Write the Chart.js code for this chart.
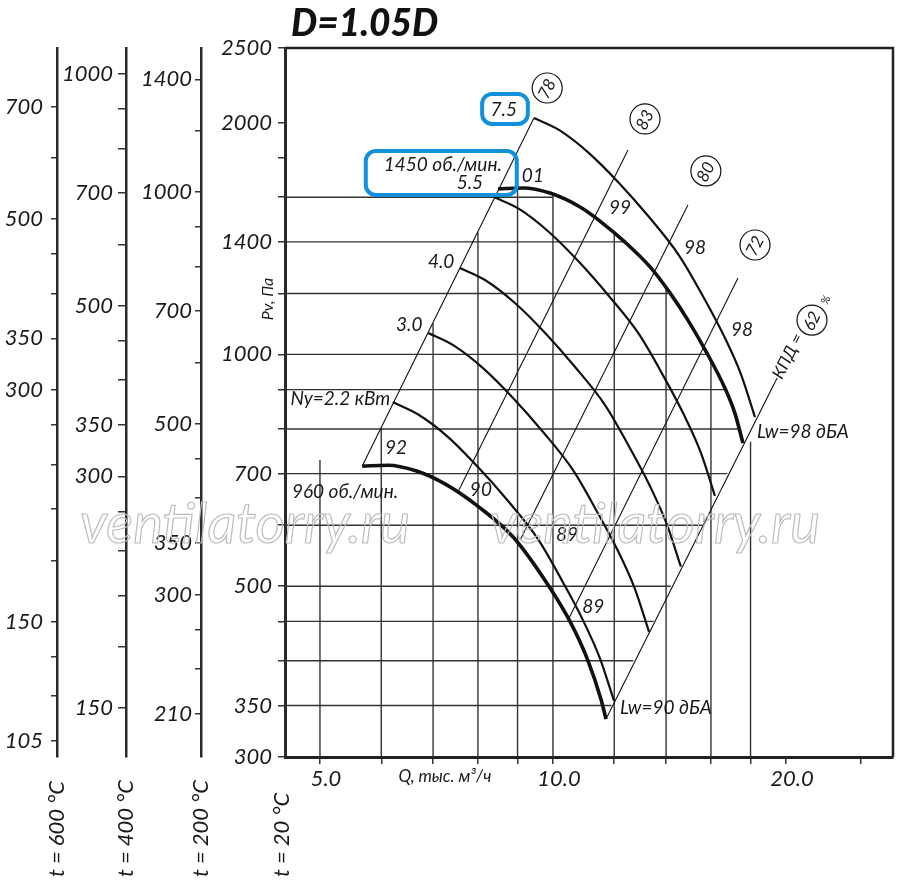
<!DOCTYPE html>
<html><head><meta charset="utf-8">
<script src="https://cdn.jsdelivr.net/npm/chart.js@4.4.1/dist/chart.umd.min.js"></script>
<style>html,body{margin:0;padding:0;background:#fff;}#wrap{width:900px;height:896px;position:relative;}</style>
</head><body><div id="wrap"><canvas id="c"></canvas></div>
<script>
// ---------------- data ----------------
const xMin = 4.506, xMax = 27.5, yMin = 300, yMax = 2500;
const xTicks = [5,6,7,8,9,10,12,14,16,18,20,25];
const xTickLabels = {5:'5.0',10:'10.0',20:'20.0'};
const yTicks20 = [300,350,400,450,500,600,700,800,900,1000,1200,1400,1600,1800,2000,2500];
const yLabels20 = [300,350,500,700,1000,1400,2000,2500];
const yTicks200 = [210,240,270,300,350,400,450,500,600,700,800,900,1000,1200,1400];
const yLabels200 = [210,300,350,500,700,1000,1400];
const yTicks400 = [150,180,210,240,270,300,350,400,450,500,600,700,800,900,1000];
const yLabels400 = [150,300,350,500,700,1000];
const yTicks600 = [105,120,135,150,180,210,240,270,300,350,400,450,500,600,700];
const yLabels600 = [105,150,300,350,500,700];
const ratio200 = 0.615, ratio400 = 0.432, ratio600 = 0.3335;
const tempTitles = ['t = 600 °C','t = 400 °C','t = 200 °C','t = 20 °C'];

// 960 rpm (thick)
const qA = [5.67, 6.12, 6.65, 7.27, 8.05, 8.90, 9.88, 10.52, 11.10, 11.54, 11.71];
const pA = [716, 718, 706, 678, 632, 578, 500, 450, 400, 356, 336];
// 1450 rpm (thick)
const qF = [8.49, 9.15, 9.91, 10.84, 11.50, 12.39, 13.35, 14.17, 14.94, 15.81, 16.68, 17.18, 17.60];
const pF = [1640, 1645, 1620, 1554, 1490, 1399, 1299, 1201, 1108, 1004, 904, 839, 767];
// Ny = 2.2 / 3.0 / 4.0 / 5.5 / 7.5 kW
const qB = [6.21, 6.69, 7.32, 8.00, 8.75, 9.56, 10.30, 10.93, 11.50, 11.99];
const pB = [867, 836, 781, 714, 645, 576, 506, 452, 403, 355];
const qC = [6.90, 7.43, 8.12, 8.88, 9.71, 10.61, 11.43, 12.14, 12.76, 13.31];
const pC = [1066, 1028, 960, 878, 793, 708, 622, 555, 496, 436];
const qD = [7.58, 8.17, 8.93, 9.77, 10.68, 11.67, 12.57, 13.34, 14.03, 14.63];
const pD = [1295, 1249, 1166, 1066, 963, 860, 756, 675, 602, 530];
const qE = [8.39, 9.04, 9.88, 10.81, 11.81, 12.91, 13.91, 14.77, 15.53, 16.19];
const pE = [1601, 1545, 1442, 1318, 1191, 1063, 935, 834, 745, 655];
const qG = [9.45, 10.18, 11.13, 12.17, 13.31, 14.54, 15.67, 16.63, 17.49, 18.24];
const pG = [2028, 1957, 1826, 1670, 1508, 1346, 1184, 1057, 943, 829];

// efficiency rays (КПД)
const effLabels = ['78','83','80','72','62'];
const effQ = [[5.67,9.45],[7.54,12.50],[9.07,14.94],[10.46,17.34],[11.71,19.48]];
const effP = [[716,2028],[663,1843],[574,1563],[452,1257],[336,932]];

// clipped grid
const gridH_P = [1600,1400,1200,1000,900,800,700,600,500,450,400,350];
const gridH_Qend = [10.0,12.39,14.1,15.81,16.68,17.39,16.8,15.6,14.2,13.5,12.7,11.9];
const gridV_Q = [5,6,7,8,9,10,12,14,16,18];
const gridV_Ptop = [729,803,1098,1440,1644,1615,1438,1218,982,770];

// ---------------- chart ----------------
const FONT = 'Lato, "Liberation Sans", sans-serif';
const pts = (q,p)=>q.map((v,i)=>({x:v,y:p[i]}));
const ds = [];
[[qF,pF,3.6],[qA,pA,3.6],[qG,pG,2.2],[qE,pE,2.2],[qD,pD,2.2],[qC,pC,2.2],[qB,pB,2.2]].forEach(([q,p,w])=>{
  ds.push({data:pts(q,p),borderColor:'#111',borderWidth:w,showLine:true,pointRadius:0,cubicInterpolationMode:'monotone',fill:false});
});
effQ.forEach((q,i)=>ds.push({data:pts(q,effP[i]),borderColor:'#111',borderWidth:1.1,showLine:true,pointRadius:0,tension:0}));
gridH_P.forEach((p,i)=>ds.push({data:[{x:xMin,y:p},{x:gridH_Qend[i],y:p}],borderColor:'#333',borderWidth:1.4,showLine:true,pointRadius:0}));
gridV_Q.forEach((q,i)=>ds.push({data:[{x:q,y:yMin},{x:q,y:gridV_Ptop[i]}],borderColor:'#333',borderWidth:1.4,showLine:true,pointRadius:0}));

function yAxis(weight, min, max, ticks, labels, width, tl, pad){
  return {type:'logarithmic',position:'left',weight,min,max,bounds:'data',
    afterBuildTicks:s=>{s.ticks=ticks.map(v=>({value:v}));},
    afterFit:s=>{s.width=width;},
    ticks:{autoSkip:false,padding:pad,color:'#1a1a1a',font:{family:FONT,style:'italic',size:22},
      callback:v=>labels.includes(v)?String(v):''},
    grid:{drawOnChartArea:false,drawTicks:true,tickLength:tl,color:'#333',lineWidth:1.5},
    border:{display:true,color:'#2a2a2a',width:weight===1?3:2.5}
  };
}

const plugin = {
  id:'annot',
  afterDraw(chart){
    const ctx=chart.ctx, xs=chart.scales.x, ys=chart.scales.y, ca=chart.chartArea;
    const X=q=>xs.getPixelForValue(q), Y=p=>ys.getPixelForValue(p);
    const ink='#1a1a1a';
    function txt(s,x,y,size,align,rot,weight){
      ctx.save();ctx.font=(weight||'')+' italic '+size+'px '+FONT;ctx.fillStyle=ink;
      ctx.textAlign=align||'center';ctx.textBaseline='middle';
      ctx.translate(x,y);if(rot)ctx.rotate(rot);ctx.fillText(s,0,0);ctx.restore();
    }
    // frame top/right
    ctx.save();ctx.strokeStyle='#222';ctx.lineWidth=2.5;ctx.beginPath();
    ctx.moveTo(ca.left,ca.top);ctx.lineTo(ca.right,ca.top);ctx.lineTo(ca.right,ca.bottom);ctx.stroke();ctx.restore();
    // curve labels
    const notes=[
      ['92',6.27,756,'center'],['90',8.07,667,'center'],['89',10.43,583,'center'],['89',11.27,470,'center'],
      ['01',9.42,1705,'center'],['99',12.21,1549,'center'],['98',15.26,1375,'center'],['98',17.55,1076,'center'],
      ['Ny=2.2 кВт',6.16,875,'right'],['3.0',6.52,1092,'center'],['4.0',7.17,1318,'center'],
      ['5.5',7.81,1670,'center'],['1450 об./мин.',8.59,1762,'right'],['7.5',8.64,2077,'center'],
      ['960 об./мин.',4.60,663,'left'],['Lw=98 дБА',18.35,793,'left'],['Lw=90 дБА',12.21,347,'left']
    ];
    notes.forEach(n=>txt(n[0],X(n[1]),Y(n[2]),19,n[3]));
    // efficiency circles
    const ang=-Math.atan2(2*770/774,1);
    const circ=[[9.83,2218],[13.15,2022],[15.76,1731],[18.24,1387],[21.61,1108]];
    circ.forEach((c,i)=>{
      const x=X(c[0]),y=Y(c[1]);
      ctx.save();ctx.strokeStyle='#111';ctx.lineWidth=1.2;ctx.beginPath();ctx.arc(x,y,15,0,Math.PI*2);ctx.stroke();ctx.restore();
      txt(effLabels[i],x,y+1,17,'center',ang);
    });
    txt('КПД =',X(20.12),Y(995),17,'center',ang);
    txt('%',X(22.53),Y(1177),11,'center',ang);
    // blue highlight boxes
    function rbox(q1,p1,q2,p2){
      const x1=X(q1),y1=Y(p1),x2=X(q2),y2=Y(p2),r=10;
      ctx.save();ctx.strokeStyle='#1290dc';ctx.lineWidth=4;ctx.beginPath();
      ctx.roundRect(x1,y1,x2-x1,y2-y1,r);ctx.stroke();ctx.restore();
    }
    rbox(8.10,2179,9.28,1992);
    rbox(5.73,1837,8.98,1611);
    // axis titles
    txt('Pv, Па',ca.left-17,Y(1180),16,'center',-Math.PI/2);
    txt('Q, тыс. м³/ч',X(7.25),ca.bottom+20,17,'center');
    ['y600','y400','y200','y'].forEach((id,i)=>{
      const s=chart.scales[id];
      txt(tempTitles[i],s.right-(id==='y'?3:0),877,22,'left',-Math.PI/2);
    });
    // title
    ctx.save();ctx.font='900 italic 37px '+FONT;ctx.fillStyle='#111';ctx.textAlign='left';ctx.textBaseline='alphabetic';
    ctx.fillText('D=1.05D',ca.left+6,ca.top-12);ctx.restore();
    // watermarks
    [[4.0,569],[13.55,569]].forEach(w=>{
      ctx.save();ctx.font='italic 400 56px '+FONT;
      const m=ctx.measureText('ventilatorry.ru').width;
      ctx.translate(X(w[0]),Y(w[1]));ctx.scale(330/m,1);
      ctx.textAlign='center';ctx.textBaseline='alphabetic';ctx.strokeStyle='#bdbdbd';ctx.lineWidth=1.2;
      ctx.strokeText('ventilatorry.ru',0,0);ctx.restore();
    });
  }
};

new Chart(document.getElementById('c'),{
  type:'scatter',
  data:{datasets:ds},
  plugins:[plugin],
  options:{
    responsive:true,maintainAspectRatio:false,animation:false,
    layout:{padding:{left:0,right:7,top:48,bottom:0}},
    plugins:{legend:{display:false},tooltip:{enabled:false}},
    scales:{
      x:{type:'logarithmic',position:'bottom',min:xMin,max:xMax,bounds:'data',
        afterBuildTicks:s=>{s.ticks=xTicks.map(v=>({value:v}));},
        afterFit:s=>{s.height=139;},
        ticks:{autoSkip:false,maxRotation:0,padding:2,labelOffset:6,color:'#1a1a1a',font:{family:FONT,style:'italic',size:22},
          callback:v=>xTickLabels[v]||''},
        grid:{drawOnChartArea:false,drawTicks:true,tickLength:7,color:'#333',lineWidth:1.5},
        border:{display:true,color:'#222',width:3}
      },
      y:yAxis(1,yMin,yMax,yTicks20,yLabels20,84,7,6),
      y200:yAxis(2,yMin*ratio200,yMax*ratio200,yTicks200,yLabels200,75,6,3),
      y400:yAxis(3,yMin*ratio400,yMax*ratio400,yTicks400,yLabels400,69,8,5),
      y600:yAxis(4,yMin*ratio600,yMax*ratio600,yTicks600,yLabels600,57,6,8)
    }
  }
});
</script></body></html>
